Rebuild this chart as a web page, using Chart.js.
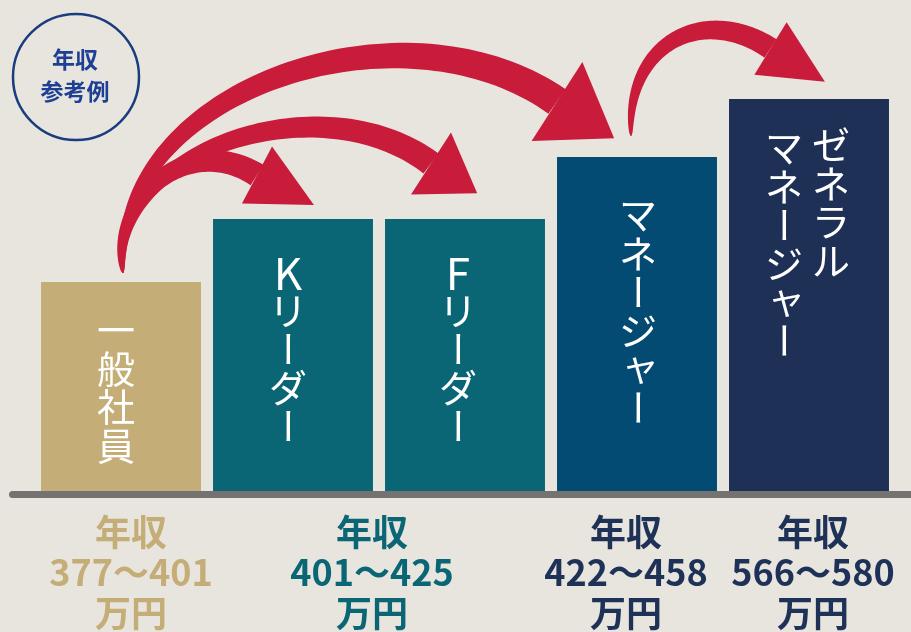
<!DOCTYPE html>
<html lang="ja">
<head>
<meta charset="utf-8">
<title>年収参考例</title>
<script src="https://cdn.jsdelivr.net/npm/chart.js@4.4.1/dist/chart.umd.min.js"></script>
<style>
  html, body { margin: 0; padding: 0; background: #e8e5df; }
  #wrap { width: 911px; height: 632px; position: relative; }
</style>
</head>
<body>
<div id="wrap"><canvas id="salaryChart"></canvas></div>
<script>
/* ====== DATA ====== */
const categories = ['一般社員', 'Kリーダー', 'Fリーダー', 'マネージャー', 'ゼネラルマネージャー'];
const barLevels = [209, 272, 272, 334, 392];          // relative bar heights (axis max 491)
const barColors = ['#c4ad76', '#0a6675', '#0a6675', '#034b73', '#1e3056'];
const barTextColumns = [['一般社員'], ['Kリーダー'], ['Fリーダー'], ['マネージャー'], ['ゼネラル', 'マネージャー']];

const salaryRanges = ['377〜401', '401〜425', '422〜458', '566〜580'];
const salaryGroups = [[0], [1, 2], [3], [4]];
const salaryColors = ['#c4ad76', '#0a6675', '#1e3157', '#1e3157'];

// arrows: from bar -> to bar (promotion paths)
const arrowFrom = [0, 0, 0, 3];
const arrowTo = [1, 2, 3, 4];

/* ====== STYLE / LAYOUT HELPERS ====== */
const RED = '#c91b3a';
const FONT = '"Noto Sans CJK JP", "Noto Sans", sans-serif';
const SMALL_KANA = 'ャュョッァィゥェォ';

// per-bar vertical text placement: [dx of each column], dy of first char from bar top
const textCols = [[-5], [-5], [-7], [1], [22, -25]];
const textTop = [[48], [53], [53], [58], [46, 49]];
const labelDx = [10, -7, -11, 4];

// arrow geometry relative to bars: start offset (from "from" bar top), end = head-base middle offset (from "to" bar top)
const arrowGeo = [
  { s: [2, -9],  c1: [-14, -70],  e: [-36, -44],   c2: [-71, -45],  dir: [0.89, 0.47], w: 24, head: 64, half: 32 },
  { s: [2, -9],  c1: [-15, -123], e: [-34, -55.5], c2: [-110, -83.5], dir: [0.84, 0.54], w: 25, head: 55, half: 37 },
  { s: [2, -9],  c1: [-13, -183], e: [-80, -55.5], c2: [-156, -109.5], dir: [0.84, 0.54], w: 30, head: 68, half: 47 },
  { s: [-6, -21], c1: [-5, -96],  e: [-38.5, -50.5], c2: [-64.5, -43.5], dir: [0.85, 0.52], w: 22, head: 64, half: 31 }
];

function bezier(p0, p1, p2, p3, t) {
  const u = 1 - t;
  return [
    u*u*u*p0[0] + 3*u*u*t*p1[0] + 3*u*t*t*p2[0] + t*t*t*p3[0],
    u*u*u*p0[1] + 3*u*u*t*p1[1] + 3*u*t*t*p2[1] + t*t*t*p3[1]
  ];
}

function drawArrow(ctx, p0, p1, p2, p3, g) {
  const N = 80, left = [], right = [];
  for (let i = 0; i <= N; i++) {
    const t = i / N;
    const p = bezier(p0, p1, p2, p3, t);
    const q = bezier(p0, p1, p2, p3, Math.min(1, t + 0.001));
    const r = bezier(p0, p1, p2, p3, Math.max(0, t - 0.001));
    let dx = q[0] - r[0], dy = q[1] - r[1];
    const len = Math.hypot(dx, dy) || 1;
    dx /= len; dy /= len;
    const hw = (1 + (g.w - 1) * Math.sqrt(t)) / 2;
    left.push([p[0] - dy * hw, p[1] + dx * hw]);
    right.push([p[0] + dy * hw, p[1] - dx * hw]);
  }
  ctx.beginPath();
  left.forEach((p, i) => i ? ctx.lineTo(p[0], p[1]) : ctx.moveTo(p[0], p[1]));
  right.reverse().forEach(p => ctx.lineTo(p[0], p[1]));
  ctx.closePath();
  ctx.fill();

  // head
  const [ux, uy] = g.dir;
  ctx.beginPath();
  ctx.moveTo(p3[0] + ux * g.head, p3[1] + uy * g.head);
  ctx.lineTo(p3[0] - uy * g.half, p3[1] + ux * g.half);
  ctx.lineTo(p3[0] + uy * g.half, p3[1] - ux * g.half);
  ctx.closePath();
  ctx.fill();
}

function drawVertical(ctx, text, cx, cy, pitch, size) {
  [...text].forEach((ch, i) => {
    const y = cy + i * pitch;
    if (ch === 'ー') {
      ctx.save();
      ctx.translate(cx, y);
      ctx.rotate(Math.PI / 2);
      ctx.fillText(ch, 0, 0);
      ctx.restore();
    } else if (SMALL_KANA.includes(ch)) {
      ctx.fillText(ch, cx + size * 0.06, y - size * 0.08);
    } else if (/[A-Za-z]/.test(ch)) {
      ctx.save();
      ctx.font = `400 ${Math.round(size * 1.16)}px ${FONT}`;
      ctx.fillText(ch, cx, y + 1);
      ctx.restore();
    } else {
      ctx.fillText(ch, cx, y);
    }
  });
}

/* ====== PLUGINS ====== */
const decorPlugin = {
  id: 'decor',
  beforeDraw(chart) {
    const ctx = chart.ctx;
    ctx.save();
    ctx.fillStyle = '#e8e5df';
    ctx.fillRect(0, 0, chart.width, chart.height);

    // badge
    ctx.strokeStyle = '#1a3d80';
    ctx.lineWidth = 2.5;
    ctx.beginPath();
    ctx.arc(76, 77, 63, 0, Math.PI * 2);
    ctx.stroke();
    ctx.fillStyle = '#1d3f94';
    ctx.font = `bold 23px ${FONT}`;
    ctx.textAlign = 'center';
    ctx.textBaseline = 'middle';
    ctx.fillText('年収', 75, 59);
    ctx.fillText('参考例', 75, 91);
    ctx.restore();
  },
  afterDatasetsDraw(chart) {
    const ctx = chart.ctx;
    const area = chart.chartArea;
    const bars = chart.getDatasetMeta(0).data;
    ctx.save();

    // baseline
    ctx.strokeStyle = '#757272';
    ctx.lineWidth = 7;
    ctx.lineCap = 'round';
    ctx.beginPath();
    ctx.moveTo(12.5, area.bottom + 3.5);
    ctx.lineTo(chart.width + 10, area.bottom + 3.5);
    ctx.stroke();

    // vertical names inside bars
    ctx.fillStyle = '#ffffff';
    ctx.font = `400 38px ${FONT}`;
    ctx.textAlign = 'center';
    ctx.textBaseline = 'middle';
    barTextColumns.forEach((cols, i) => {
      const b = bars[i];
      cols.forEach((txt, j) => {
        drawVertical(ctx, txt, b.x + textCols[i][j], b.y + textTop[i][j], 38.5, 38);
      });
    });

    // arrows
    ctx.fillStyle = RED;
    arrowGeo.forEach((g, k) => {
      const a = bars[arrowFrom[k]], b = bars[arrowTo[k]];
      const p0 = [a.x + g.s[0], a.y + g.s[1]];
      const p1 = [a.x + g.s[0] + g.c1[0], a.y + g.s[1] + g.c1[1]];
      const p3 = [b.x + g.e[0], b.y + g.e[1]];
      const p2 = [p3[0] + g.c2[0], p3[1] + g.c2[1]];
      drawArrow(ctx, p0, p1, p2, p3, g);
    });

    // salary labels
    ctx.font = `bold 36px ${FONT}`;
    salaryRanges.forEach((range, i) => {
      const xs = salaryGroups[i].map(idx => bars[idx].x);
      const cx = xs.reduce((s, v) => s + v, 0) / xs.length + labelDx[i];
      ctx.fillStyle = salaryColors[i];
      ctx.fillText('年収', cx, area.bottom + 41);
      ctx.fillText(range, cx, area.bottom + 81.5);
      ctx.fillText('万円', cx, area.bottom + 122);
    });
    ctx.restore();
  }
};

/* ====== CHART ====== */
new Chart(document.getElementById('salaryChart').getContext('2d'), {
  type: 'bar',
  data: {
    labels: categories,
    datasets: [{
      data: barLevels,
      backgroundColor: barColors,
      borderWidth: 0,
      barPercentage: 0.93,
      categoryPercentage: 1
    }]
  },
  options: {
    responsive: true,
    maintainAspectRatio: false,
    animation: false,
    layout: { padding: { left: 35, right: 16, top: 0, bottom: 141 } },
    plugins: { legend: { display: false }, tooltip: { enabled: false } },
    scales: {
      x: { display: false },
      y: { display: false, min: 0, max: 491 }
    }
  },
  plugins: [decorPlugin]
});
</script>
</body>
</html>
